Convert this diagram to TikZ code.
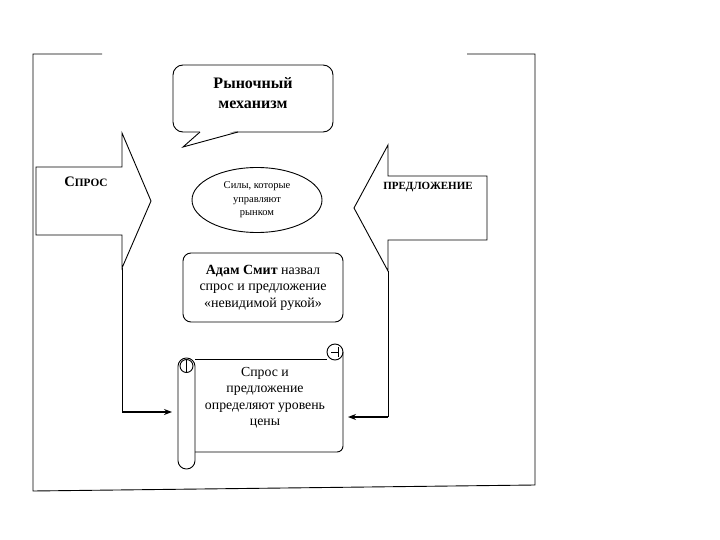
\documentclass[tikz,border=0pt]{standalone}
\usepackage{fontspec}
\setmainfont{Liberation Serif}
\usetikzlibrary{arrows.meta,shapes.geometric}

\begin{document}
\begin{tikzpicture}[x=1pt,y=-1pt,line width=0.9pt,>={Stealth[length=8pt,width=6pt]},
  bubble/.style={draw,rounded corners=10pt,minimum width=160pt,minimum height=67pt},
  rbox/.style={draw,rounded corners=8pt,minimum width=160pt,minimum height=69pt,inner sep=0pt,align=center,font=\fontsize{14}{16.5}\selectfont},
  oval/.style={draw,ellipse,minimum width=130pt,minimum height=65pt,inner sep=0pt,align=center,font=\fontsize{10.5}{13.5}\selectfont},
  txt/.style={align=center,inner sep=0pt}]
\useasboundingbox (0,0) rectangle (720,540);

% frame
\draw (102,54) -- (33,54) -- (33,491) -- (535,485) -- (535,54) -- (467,54);

% market mechanism bubble
\node[bubble] (mech) at (253,98.5) {};
\node[txt,font=\fontsize{16}{20.5}\selectfont\bfseries] (mechtxt) at (253,93) {Рыночный\\механизм};
\coordinate (tip) at (183,147);
\fill[white] (201,130.5) -- (tip) -- (237,130.5) -- cycle;
\draw (200,132) -- (tip) -- (238,132);

\node[oval] (forces) at (257,200) {Силы, которые\\управляют\\рынком};
\node[rbox] (smith) at (263,287.5) {\textbf{Адам Смит} назвал\\спрос и предложение\\«невидимой рукой»};

% demand arrow
\draw (36,167) -- (122,167) -- (122,133) -- (151,201) -- (122,268) -- (122,235) -- (36,235) -- cycle;
\node[txt,font=\fontsize{14.5}{15}\selectfont\bfseries] (demand) at (86,182) {С{\fontsize{11.3}{12}\selectfont ПРОС}};
\coordinate (dfoot) at (122,268);

% supply arrow
\draw (487,176) -- (388,176) -- (388,145) -- (354,208) -- (388,271) -- (388,240) -- (487,240) -- cycle;
\node[txt,font=\fontsize{11}{12}\selectfont\bfseries] (supply) at (428,187) {ПРЕДЛОЖЕНИЕ};
\coordinate (sfoot) at (388,271);

% scroll
\draw (195,359) -- (327,359);
\draw (335,352) circle (8);
\draw (331,352) -- (338,352) (338,347) -- (338,357);
\draw[rounded corners=6pt] (343,352) -- (343,452) -- (195,452);
\draw[rounded corners=8.4pt] (178,358) rectangle (195,469);
\draw (186.5,366) circle (6.5);
\draw (186.5,360) -- (186.5,372);
\node[txt,font=\fontsize{13.8}{16.5}\selectfont] (price) at (265,398) {Спрос и\\предложение\\определяют уровень\\цены};

% connectors
\coordinate (inL) at (172,412);
\coordinate (inR) at (348,417);
\draw (dfoot) -- (dfoot |- inL);
\draw[->,line width=1.8pt] (dfoot |- inL) -- (inL);
\draw (sfoot) -- (sfoot |- inR);
\draw[->,line width=1.2pt] (sfoot |- inR) -- (inR);
\end{tikzpicture}
\end{document}
